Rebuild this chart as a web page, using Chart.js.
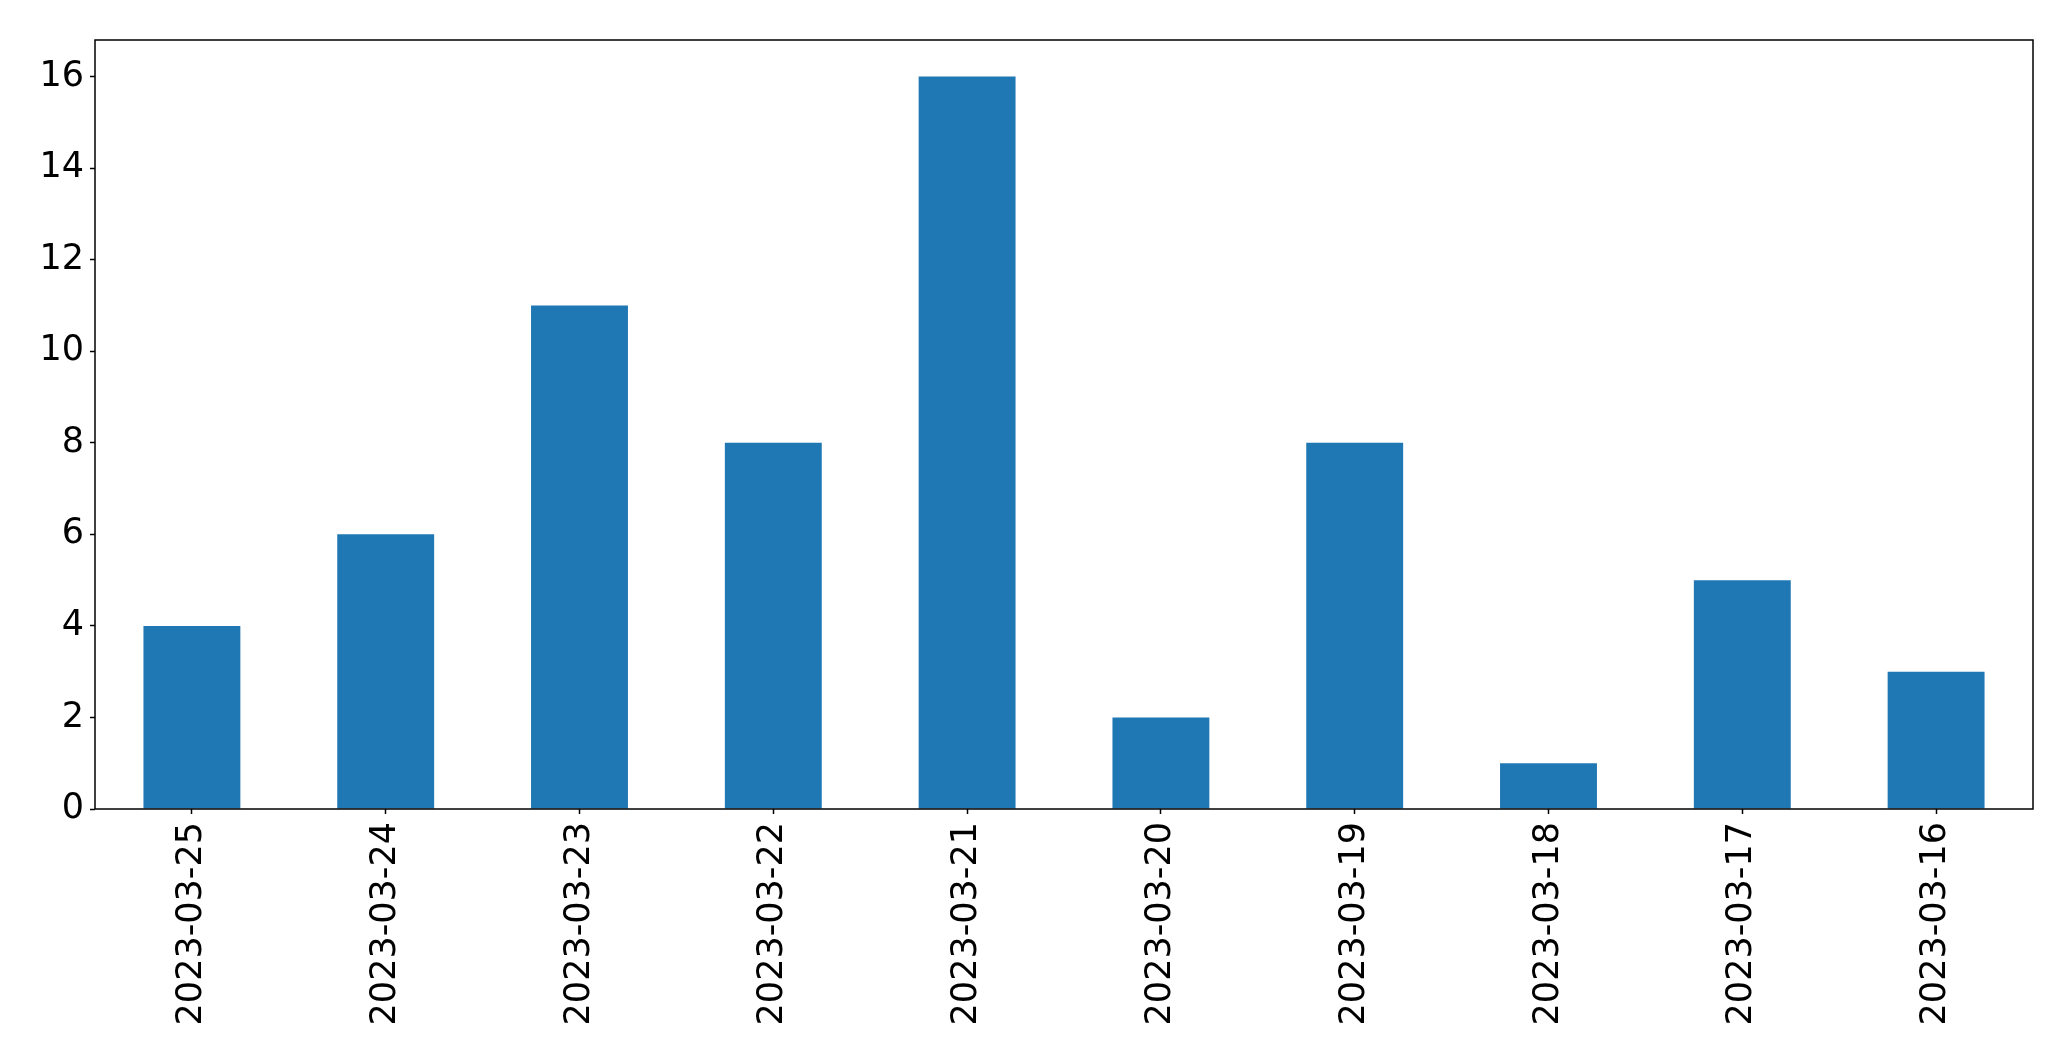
<!DOCTYPE html>
<html>
<head>
<meta charset="utf-8">
<script src="https://cdn.jsdelivr.net/npm/chart.js@4/dist/chart.umd.min.js"></script>
<style>
  html, body { margin: 0; padding: 0; background: #fff; }
</style>
</head>
<body>
<canvas id="myChart" width="2071" height="1061"></canvas>
<script>
const barColor = '#1f77b4';

const dates = ['2023-03-25', '2023-03-24', '2023-03-23', '2023-03-22', '2023-03-21',
               '2023-03-20', '2023-03-19', '2023-03-18', '2023-03-17', '2023-03-16'];
const counts = [4, 6, 11, 8, 16, 2, 8, 1, 5, 3];
const yTicks = [0, 2, 4, 6, 8, 10, 12, 14, 16];

Chart.defaults.font.family = '"DejaVu Sans", sans-serif';
Chart.defaults.font.size = 35;
Chart.defaults.color = '#000';

// matplotlib style frame round the plot area
const frame = {
    id: 'frame',
    afterDraw(chart) {
        const {ctx, chartArea: a} = chart;
        ctx.save();
        ctx.strokeStyle = '#000';
        ctx.lineWidth = 1.5;
        ctx.strokeRect(a.left, a.top, a.right - a.left, a.bottom - a.top);
        ctx.restore();
    }
};

const data = {
    labels: dates,
    datasets: [{
        data: counts,
        backgroundColor: barColor,
        borderWidth: 0,
        barPercentage: 0.5,
        categoryPercentage: 1.0,
    }]
};

const config = {
    type: 'bar',
    data: data,
    plugins: [frame],
    options: {
        responsive: false,
        animation: false,
        layout: { padding: { left: 0, top: 40, right: 38, bottom: 0 } },
        plugins: { legend: { display: false }, tooltip: { enabled: false } },
        scales: {
            x: {
                offset: true,
                grid: { display: true, offset: false, drawOnChartArea: false, tickLength: 5, tickColor: '#000', tickWidth: 1.5 },
                border: { display: false },
                ticks: { minRotation: 90, maxRotation: 90, padding: 8, autoSkip: false },
                afterFit(scale) { scale.height = 1061 - 809; }
            },
            y: {
                min: 0,
                max: 16.8,
                grid: { display: true, drawOnChartArea: false, tickLength: 5, tickColor: '#000', tickWidth: 1.5 },
                border: { display: false },
                ticks: { stepSize: 2, padding: 6 },
                afterBuildTicks(scale) {
                    scale.ticks = yTicks.map(v => ({ value: v }));
                },
                afterFit(scale) { scale.width = 95; }
            }
        }
    }
};

new Chart(document.getElementById('myChart'), config);
</script>
</body>
</html>
